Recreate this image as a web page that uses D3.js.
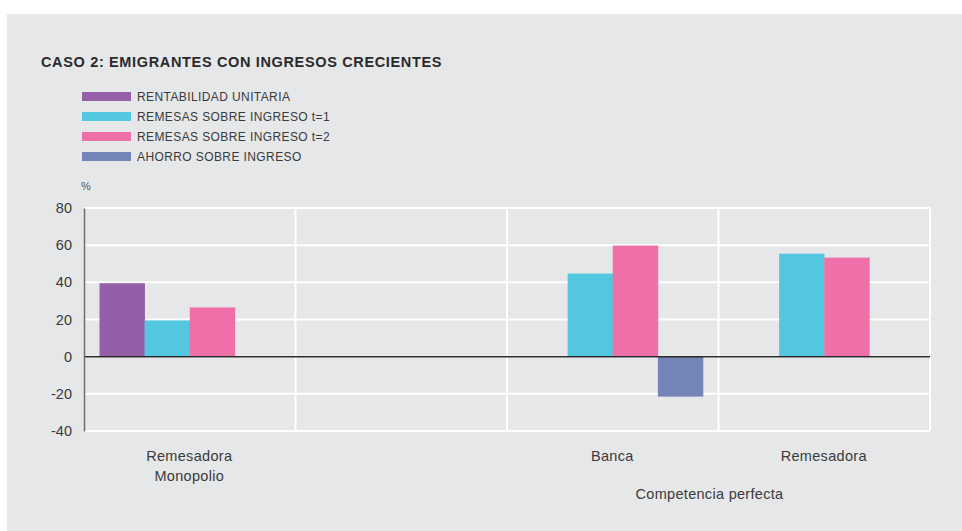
<!DOCTYPE html>
<html>
<head>
<meta charset="utf-8">
<script src="https://cdn.jsdelivr.net/npm/d3@7"></script>
<style>
  body { margin: 0; background: #fff; }
  svg { display: block; font-family: "Liberation Sans", Arial, sans-serif; }
</style>
</head>
<body>
<div id="chart"></div>
<script>
// data
var categories = ["Remesadora|Monopolio", "", "Banca", "Remesadora"]
var seriesNames = ["RENTABILIDAD UNITARIA", "REMESAS SOBRE INGRESO t=1", "REMESAS SOBRE INGRESO t=2", "AHORRO SOBRE INGRESO"]
var seriesColors = ["#945fa6", "#53c7e0", "#ef70a9", "#7484b6"]
var rentabilidad = [39.5, null, null, null]
var remesasT1 = [19.5, null, 44.7, 55.4]
var remesasT2 = [26.5, null, 59.8, 53.3]
var ahorro = [null, null, -21.5, null]
var yTicks = [-40, -20, 0, 20, 40, 60, 80]

var allSeries = [rentabilidad, remesasT1, remesasT2, ahorro]

var W = 962, H = 531
var margin = { top: 208, right: 32, bottom: 100, left: 84 },
    width = 930 - margin.left,
    height = 431 - margin.top

var svg = d3.select("#chart").append("svg")
    .attr("width", W)
    .attr("height", H)

// gray panel
svg.append("rect")
    .attr("x", 7).attr("y", 14)
    .attr("width", W - 7).attr("height", H - 14)
    .attr("fill", "#e6e7e9")

// title
svg.append("text")
    .attr("x", 41).attr("y", 67)
    .attr("font-size", 14.5)
    .attr("font-weight", "bold")
    .attr("letter-spacing", 0.65)
    .attr("fill", "#2a2a2a")
    .text("CASO 2: EMIGRANTES CON INGRESOS CRECIENTES")

// legend
var legend = svg.append("g")
seriesNames.forEach(function (name, i) {
    legend.append("rect")
        .attr("x", 82).attr("y", 92 + i * 20)
        .attr("width", 49).attr("height", 9)
        .attr("fill", seriesColors[i])
    legend.append("text")
        .attr("x", 137).attr("y", 101 + i * 20)
        .attr("font-size", 12)
        .attr("letter-spacing", 0.4)
        .attr("fill", "#3a3a3a")
        .text(name)
})

svg.append("text")
    .attr("x", 81).attr("y", 190)
    .attr("font-size", 11)
    .attr("fill", "#555")
    .text("%")

var g = svg.append("g")
    .attr("transform", "translate(" + margin.left + "," + margin.top + ")")

var x0 = d3.scaleBand()
    .domain(d3.range(categories.length))
    .range([0, width])

var x1 = d3.scaleBand()
    .domain(d3.range(seriesNames.length))
    .range([15.5, x0.bandwidth() - 15.5])

var y = d3.scaleLinear()
    .domain([-40, 80])
    .range([height, 0])

// horizontal grid
g.append("g")
    .selectAll("line")
    .data(yTicks)
    .join("line")
    .attr("x1", 0).attr("x2", width)
    .attr("y1", function (d) { return y(d) })
    .attr("y2", function (d) { return y(d) })
    .attr("stroke", "#fff")
    .attr("stroke-width", 2)

// vertical grid at band boundaries
g.append("g")
    .selectAll("line")
    .data(d3.range(1, categories.length + 1))
    .join("line")
    .attr("x1", function (d) { return d * x0.step() })
    .attr("x2", function (d) { return d * x0.step() })
    .attr("y1", 0).attr("y2", height)
    .attr("stroke", "#fff")
    .attr("stroke-width", 2)

// bars
var groups = g.selectAll(".grp")
    .data(categories)
    .join("g")
    .attr("class", "grp")
    .attr("transform", function (d, i) { return "translate(" + x0(i) + ",0)" })

groups.selectAll("rect")
    .data(function (d, i) {
        return allSeries.map(function (s, k) { return { k: k, v: s[i] } })
            .filter(function (e) { return e.v != null })
    })
    .join("rect")
    .attr("x", function (d) { return x1(d.k) })
    .attr("width", x1.bandwidth() + 0.3)
    .attr("y", function (d) { return y(Math.max(0, d.v)) })
    .attr("height", function (d) { return Math.abs(y(d.v) - y(0)) })
    .attr("fill", function (d) { return seriesColors[d.k] })

// zero line
g.append("line")
    .attr("x1", 0).attr("x2", width)
    .attr("y1", y(0)).attr("y2", y(0))
    .attr("stroke", "#2b2b2b")
    .attr("stroke-width", 1.5)

// y axis
var yAxis = d3.axisLeft(y).tickValues(yTicks).tickSize(0).tickPadding(12)
    .tickFormat(function (d) { return String(d) })
var ya = g.append("g").call(yAxis)
ya.select(".domain").attr("stroke", "#6d6d6d").attr("stroke-width", 1.5)
ya.selectAll("text")
    .attr("font-size", 14.5)
    .attr("font-family", "Liberation Sans, Arial, sans-serif")
    .attr("fill", "#3a3a3a")

// category labels
groups.each(function (d) {
    var sel = d3.select(this)
    d.split("|").forEach(function (t, j) {
        sel.append("text")
            .attr("x", x0.bandwidth() / 2 - 0.5)
            .attr("y", height + 30 + j * 20)
            .attr("text-anchor", "middle")
            .attr("font-size", 14.5)
            .attr("letter-spacing", 0.3)
            .attr("fill", "#3a3a3a")
            .text(t)
    })
})

g.append("text")
    .attr("x", x0(3) - 9)
    .attr("y", height + 68)
    .attr("text-anchor", "middle")
    .attr("font-size", 14.5)
    .attr("letter-spacing", 0.3)
    .attr("fill", "#3a3a3a")
    .text("Competencia perfecta")
</script>
</body>
</html>
